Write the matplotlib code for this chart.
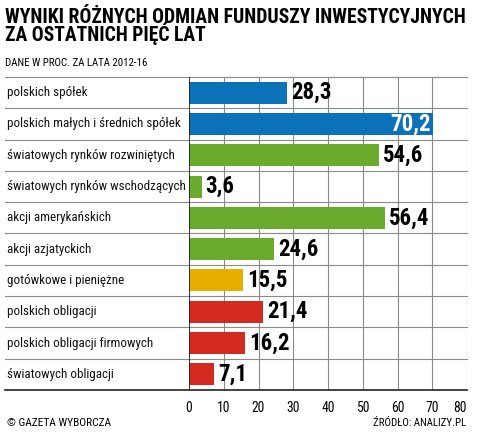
import matplotlib
matplotlib.use('Agg')
import matplotlib.pyplot as plt

#%% Data
categories = ['polskich spółek', 'polskich małych i średnich spółek',
              'światowych rynków rozwiniętych', 'światowych rynków wschodzących',
              'akcji amerykańskich', 'akcji azjatyckich', 'gotówkowe i pieniężne',
              'polskich obligacji', 'polskich obligacji firmowych',
              'światowych obligacji']
values = [28.3, 70.2, 54.6, 3.6, 56.4, 24.6, 15.5, 21.4, 16.2, 7.1]
groups = ['pl', 'pl', 'world', 'world', 'world', 'world', 'cash', 'bond', 'bond', 'bond']
ticks = [0, 10, 20, 30, 40, 50, 60, 70, 80]

colors = {'pl': '#0b72b9', 'world': '#6aab2e', 'cash': '#e6ae00', 'bond': '#d42a20'}

# condensed font, falls back to DejaVu
plt.rcParams['font.family'] = ['Roboto Condensed', 'Liberation Sans Narrow', 'DejaVu Sans']

#%% Figure
W, H = 478, 433
fig = plt.figure(figsize=(W / 100, H / 100), dpi=100)
x0, x1, ytop, ybot = 189, 467, 77, 390
ax = fig.add_axes([x0 / W, 1 - ybot / H, (x1 - x0) / W, (ybot - ytop) / H])

n = len(categories)
ypos = list(range(n))
ax.set_xlim(0, 80)
ax.set_ylim(n - 0.5, -0.5)

# vertical grid
for t in ticks[1:]:
    ax.axvline(t, color='#8a8a8a', lw=0.8, zorder=0)
ax.axvline(0, color='#222222', lw=1.3, zorder=3)

ax.barh(ypos, values, height=0.7, color=[colors[g] for g in groups],
        zorder=2)

# row separator lines across full width
xl = -(x0 - 5) / (x1 - x0) * 80
for k in range(n + 1):
    ax.plot([xl, 80], [k - 0.5, k - 0.5],
            color='#222222' if k == n else '#8a8a8a',
            lw=1.2 if k == n else 0.8, clip_on=False, zorder=1)

for y, v, c in zip(ypos, values, categories):
    lbl = ('%.1f' % v).replace('.', ',')
    if v > 65:
        ax.text(v - 0.6, y, lbl, ha='right', va='center', color='white',
                fontsize=16.5, fontweight='bold', zorder=4)
    else:
        ax.text(v + 1.2, y, lbl, ha='left', va='center', color='black',
                fontsize=16.5, fontweight='bold', zorder=4)
    ax.text(-(x0 - 7) / (x1 - x0) * 80, y, c, ha='left', va='center',
            fontsize=9.4, color='#111111')

ax.set_xticks(ticks)
ax.set_xticklabels([str(t) for t in ticks], fontsize=9.8)
ax.get_xticklabels()[-1].set_horizontalalignment('right')
ax.tick_params(axis='x', length=0, pad=8)
ax.set_yticks([])
for s in ax.spines.values():
    s.set_visible(False)

# titles and footer
fig.text(5 / W, 1 - 23 / H, 'WYNIKI RÓŻNYCH ODMIAN FUNDUSZY INWESTYCYJNYCH',
         ha='left', va='baseline', fontsize=14.1, fontweight='bold')
fig.text(5 / W, 1 - 41 / H, 'ZA OSTATNICH PIĘĆ LAT',
         ha='left', va='baseline', fontsize=14.1, fontweight='bold')
fig.text(5 / W, 1 - 66 / H, 'DANE W PROC. ZA LATA 2012-16', ha='left', va='baseline',
         fontsize=7.8)
fig.text(7 / W, 1 - 426 / H, '© GAZETA WYBORCZA', ha='left', va='baseline', fontsize=8.2)
fig.text(466 / W, 1 - 426 / H, 'ŹRÓDŁO: ANALIZY.PL', ha='right', va='baseline',
         fontsize=7.8)

fig.savefig('out.png', dpi=100)
